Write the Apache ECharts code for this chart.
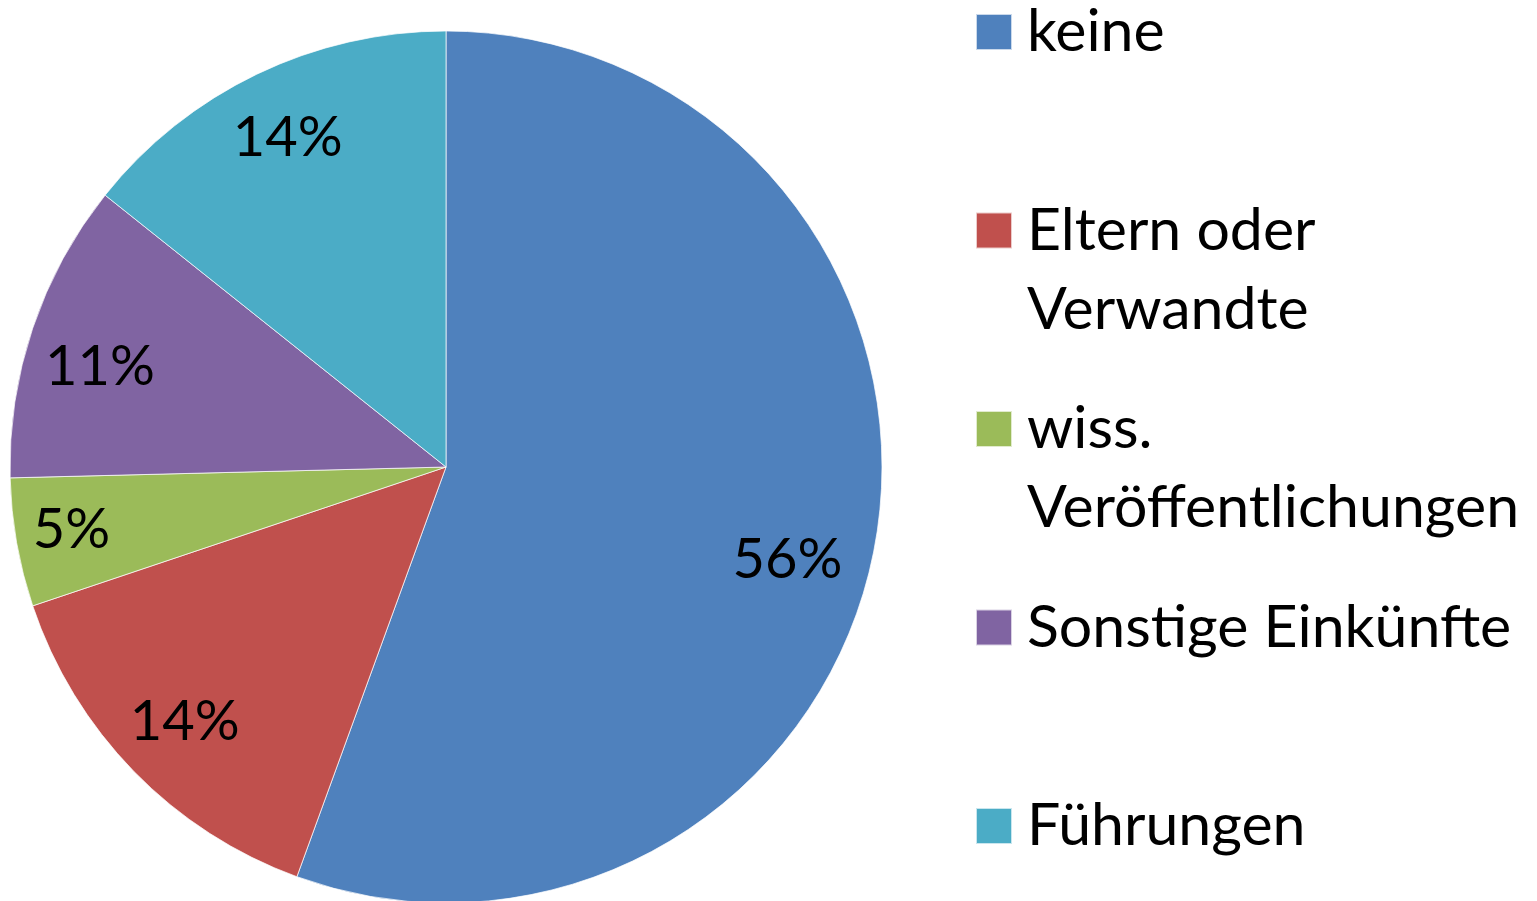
<!DOCTYPE html>
<html>
<head>
<meta charset="utf-8">
<title>Einkünfte</title>
<script src="https://cdn.jsdelivr.net/npm/echarts@6/dist/echarts.min.js"></script>
<style>
  html, body { margin: 0; padding: 0; background: #fff; }
  #chart { width: 1537px; height: 901px; }
</style>
</head>
<body>
<div id="chart"></div>
<script>
// Daten
var categories = ['keine', 'Eltern oder Verwandte', 'wiss. Veröffentlichungen', 'Sonstige Einkünfte', 'Führungen'];
var legendLabels = ['keine', 'Eltern oder\nVerwandte', 'wiss.\nVeröffentlichungen', 'Sonstige Einkünfte', 'Führungen'];
var counts = [35, 9, 3, 7, 9];
var colors = ['#4F81BD', '#C0504D', '#9BBB59', '#8064A2', '#4BACC6'];

var FONT = 'Lato';
var LH = 79; // Zeilenhoehe Legende

var chart = echarts.init(document.getElementById('chart'));

var pieData = categories.map(function (name, i) {
  return { name: name, value: counts[i], itemStyle: { color: colors[i] } };
});
// Overlay nur fuer Beschriftungen (liegen weiter aussen)
var labelData = categories.map(function (name, i) {
  return { name: name, value: counts[i] };
});

// eine Legende pro Eintrag, erste Textzeile auf Hoehe des Symbols
var legends = categories.map(function (name, i) {
  var lines = legendLabels[i].split('\n').length;
  var iconY = 32 + i * 198.5;
  return {
    orient: 'vertical',
    left: 975,
    top: lines === 1 ? iconY - LH / 2 : iconY - 1.5 * LH,
    padding: 0,
    itemWidth: 36,
    itemHeight: 36,
    icon: 'rect',
    selectedMode: false,
    data: [name],
    formatter: function () {
      return legendLabels[i];
    },
    textStyle: {
      fontFamily: FONT,
      fontSize: 59,
      color: '#000',
      lineHeight: LH,
      padding: lines === 1 ? [0, 0, 0, 10] : [LH, 0, 0, 10],
      rich: {}
    }
  };
});

// kleine Verschiebungen der Prozentwerte wie im Original (bestFit)
var labelNudge = [[-18, 30], [0, 0], [-15, 0], [0, 16], [0, 0]];

chart.setOption({
  animation: false,
  color: colors,
  legend: legends,
  series: [
    {
      type: 'pie',
      center: [446, 467],
      radius: 436,
      startAngle: 90,
      clockwise: true,
      silent: true,
      label: { show: false },
      labelLine: { show: false },
      itemStyle: { borderColor: 'rgba(255,255,255,0.7)', borderWidth: 1 },
      data: pieData
    },
    {
      type: 'pie',
      center: [446, 467],
      radius: [288, 436],
      startAngle: 90,
      clockwise: true,
      silent: true,
      legendHoverLink: false,
      itemStyle: { color: 'rgba(0,0,0,0)', borderWidth: 0 },
      label: {
        show: true,
        position: 'inside',
        fontFamily: FONT,
        fontSize: 56,
        color: '#000',
        formatter: function (p) {
          return Math.round(p.percent) + '%';
        }
      },
      labelLayout: function (params) {
        var n = labelNudge[params.dataIndex];
        return { dx: n[0], dy: n[1] };
      },
      labelLine: { show: false },
      data: labelData
    }
  ]
});
</script>
</body>
</html>
